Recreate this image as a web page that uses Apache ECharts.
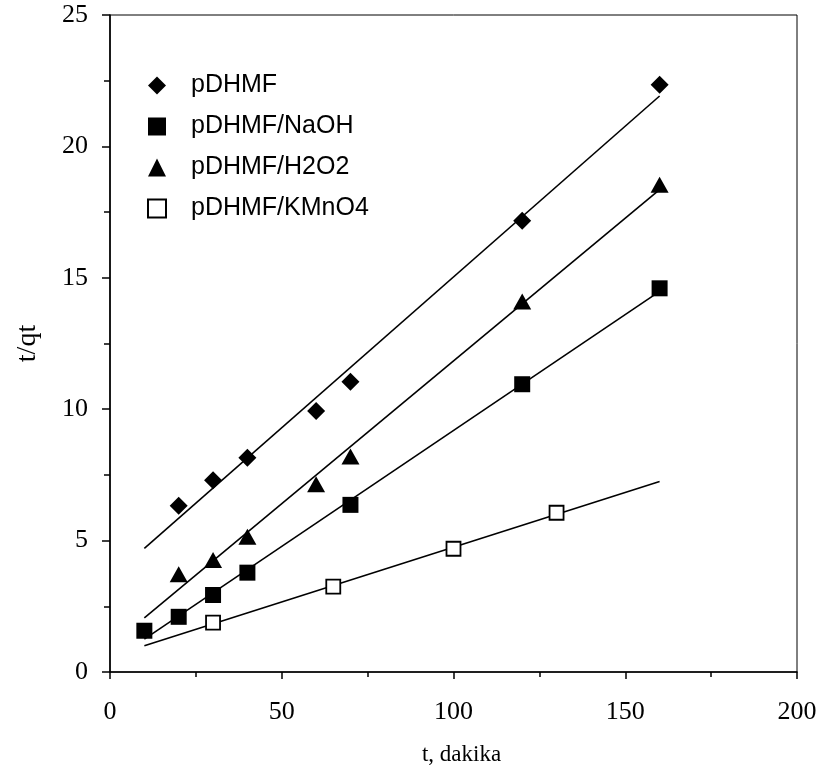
<!DOCTYPE html>
<html>
<head>
<meta charset="utf-8">
<script src="https://cdn.jsdelivr.net/npm/echarts@6/dist/echarts.min.js"></script>
<style>
  html, body { margin: 0; padding: 0; background: #fff; }
  #chart { width: 826px; height: 774px; }
</style>
</head>
<body>
<div id="chart"></div>
<script>
// Kinetic data: t (minutes) vs t/qt for each sorbent
const seriesNames = ['pDHMF', 'pDHMF/NaOH', 'pDHMF/H2O2', 'pDHMF/KMnO4'];

const tPDHMF = [20, 30, 40, 60, 70, 120, 160];
const yPDHMF = [6.33, 7.30, 8.15, 9.93, 11.04, 17.17, 22.35];

const tNaOH = [10, 20, 30, 40, 70, 120, 160];
const yNaOH = [1.57, 2.10, 2.93, 3.78, 6.36, 10.95, 14.60];

const tH2O2 = [20, 30, 40, 60, 70, 120, 160];
const yH2O2 = [3.72, 4.26, 5.15, 7.14, 8.20, 14.10, 18.54];

const tKMnO4 = [30, 65, 100, 130];
const yKMnO4 = [1.88, 3.25, 4.69, 6.06];

// Range over which the linear trend lines are drawn
const trendRange = [10, 160];

// Axis ticks
const xTicks = [0, 50, 100, 150, 200];
const yTicks = [0, 5, 10, 15, 20, 25];

function pairs(xs, ys) {
  return xs.map((x, i) => [x, ys[i]]);
}

// Least-squares straight line through a data set, evaluated at the range ends
function trend(xs, ys) {
  const n = xs.length;
  const mx = xs.reduce((a, b) => a + b, 0) / n;
  const my = ys.reduce((a, b) => a + b, 0) / n;
  let sxy = 0, sxx = 0;
  for (let i = 0; i < n; i++) {
    sxy += (xs[i] - mx) * (ys[i] - my);
    sxx += (xs[i] - mx) * (xs[i] - mx);
  }
  const k = sxy / sxx;
  const b = my - k * mx;
  return trendRange.map(x => [x, k * x + b]);
}

const serif = "'Liberation Serif', serif";
const sans = "'Liberation Sans', sans-serif";

const scatterBase = {
  type: 'scatter',
  z: 5
};

const lineBase = {
  type: 'line',
  symbol: 'none',
  silent: true,
  z: 3,
  lineStyle: { color: '#000', width: 1.6 }
};

const chart = echarts.init(document.getElementById('chart'), null, { renderer: 'canvas' });

chart.setOption({
  animation: false,
  backgroundColor: '#fff',
  textStyle: { fontFamily: serif },
  grid: {
    left: 110, right: 29, top: 15, bottom: 102,
    show: true, borderColor: '#000', borderWidth: 1
  },
  legend: {
    orient: 'vertical',
    left: 147,
    top: 72,
    padding: 0,
    itemWidth: 18,
    itemHeight: 18,
    itemGap: 14,
    data: seriesNames,
    textStyle: { fontFamily: sans, fontSize: 25, lineHeight: 27, color: '#000', padding: [0, 0, 0, 20] }
  },
  xAxis: {
    type: 'value',
    min: xTicks[0],
    max: xTicks[xTicks.length - 1],
    interval: 50,
    name: 't, dakika',
    nameLocation: 'middle',
    nameGap: 71,
    nameTextStyle: { fontFamily: serif, fontSize: 23, color: '#000', padding: [0, 0, 0, 16] },
    axisLine: { lineStyle: { color: '#000', width: 1.6 } },
    axisTick: { show: true, inside: false, length: 7, lineStyle: { color: '#000', width: 1.5 } },
    minorTick: { show: true, splitNumber: 2, length: 5, lineStyle: { color: '#000', width: 1.5 } },
    axisLabel: { margin: 27, fontFamily: serif, fontSize: 26, color: '#000' },
    splitLine: { show: false }
  },
  yAxis: {
    type: 'value',
    min: yTicks[0],
    max: yTicks[yTicks.length - 1],
    interval: 5,
    name: 't/qt',
    nameLocation: 'middle',
    nameGap: 68,
    nameTextStyle: { fontFamily: serif, fontSize: 28, color: '#000' },
    axisLine: { lineStyle: { color: '#000', width: 1.6 } },
    axisTick: { show: true, inside: false, length: 8, lineStyle: { color: '#000', width: 1.5 } },
    minorTick: { show: true, splitNumber: 2, length: 6, lineStyle: { color: '#000', width: 1.5 } },
    axisLabel: { margin: 22, fontFamily: serif, fontSize: 26, color: '#000' },
    splitLine: { show: false }
  },
  series: [
    Object.assign({}, lineBase, { name: 'fit-pDHMF', data: trend(tPDHMF, yPDHMF) }),
    Object.assign({}, lineBase, { name: 'fit-NaOH', data: trend(tNaOH, yNaOH) }),
    Object.assign({}, lineBase, { name: 'fit-H2O2', data: trend(tH2O2, yH2O2) }),
    Object.assign({}, lineBase, { name: 'fit-KMnO4', data: trend(tKMnO4, yKMnO4) }),
    Object.assign({}, scatterBase, {
      name: seriesNames[0], symbol: 'diamond', symbolSize: 18,
      itemStyle: { color: '#000', opacity: 1 },
      data: pairs(tPDHMF, yPDHMF)
    }),
    Object.assign({}, scatterBase, {
      name: seriesNames[1], symbol: 'rect', symbolSize: 16,
      itemStyle: { color: '#000', opacity: 1 },
      data: pairs(tNaOH, yNaOH)
    }),
    Object.assign({}, scatterBase, {
      name: seriesNames[2], symbol: 'triangle', symbolSize: [18, 16],
      itemStyle: { color: '#000', opacity: 1 },
      data: pairs(tH2O2, yH2O2)
    }),
    Object.assign({}, scatterBase, {
      name: seriesNames[3], symbol: 'rect', symbolSize: 14,
      itemStyle: { color: '#fff', borderColor: '#000', borderWidth: 1.8, opacity: 1 },
      data: pairs(tKMnO4, yKMnO4)
    })
  ]
});
</script>
</body>
</html>
